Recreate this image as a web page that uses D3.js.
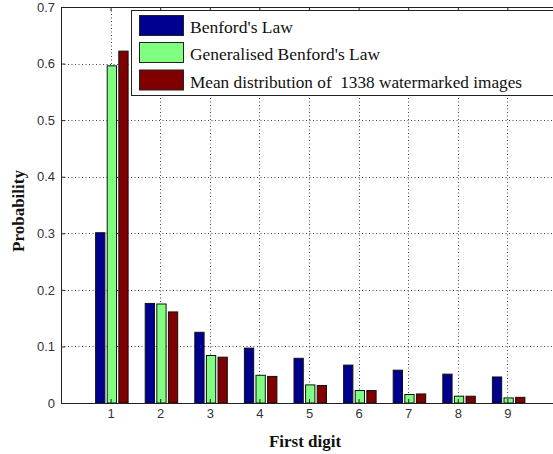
<!DOCTYPE html>
<html>
<head>
<meta charset="utf-8">
<script src="https://cdn.jsdelivr.net/npm/d3@7"></script>
<style>
  html, body { margin: 0; padding: 0; background: #fff; overflow: hidden; }
  svg { display: block; }
  .tick text { font-family: "Liberation Sans", Arial, sans-serif; font-size: 13px; fill: #333; }
</style>
</head>
<body>
<script>
// First-digit probabilities
const digits = [1, 2, 3, 4, 5, 6, 7, 8, 9];
const seriesNames = ["Benford's Law", "Generalised Benford's Law", "Mean distribution of  1338 watermarked images"];
const benford = [0.301, 0.176, 0.125, 0.097, 0.079, 0.067, 0.058, 0.051, 0.046];
const generalised = [0.596, 0.175, 0.084, 0.049, 0.032, 0.022, 0.015, 0.012, 0.009];
const watermarked = [0.622, 0.161, 0.081, 0.047, 0.031, 0.022, 0.016, 0.012, 0.010];
const seriesColors = ["#00008f", "#80ff80", "#800000"];
const yTicks = [0, 0.1, 0.2, 0.3, 0.4, 0.5, 0.6, 0.7];

const W = 553, H = 454;
const m = { left: 61, top: 7, right: 557, bottom: 403 };

const svg = d3.select("body").append("svg").attr("width", W).attr("height", H);

const x = d3.scaleLinear().domain([0, 10]).range([m.left, m.right]);
const y = d3.scaleLinear().domain([0, 0.7]).range([m.bottom, m.top]);
const inner = d3.scaleBand().domain(d3.range(3)).range([-15, 17.5]).paddingInner(0.2);

// plot background
svg.append("rect").attr("x", m.left).attr("y", m.top)
  .attr("width", m.right - m.left).attr("height", m.bottom - m.top).attr("fill", "#fff");

// dotted grid
const grid = svg.append("g").attr("stroke", "#444").attr("stroke-width", 1).attr("stroke-dasharray", "1,2.5");
grid.selectAll("line.v").data(digits).join("line").attr("class", "v")
  .attr("x1", d => Math.round(x(d)) + 0.5).attr("x2", d => Math.round(x(d)) + 0.5)
  .attr("y1", m.top).attr("y2", m.bottom);
grid.selectAll("line.h").data(yTicks.slice(1, -1)).join("line").attr("class", "h")
  .attr("y1", d => Math.round(y(d)) + 0.5).attr("y2", d => Math.round(y(d)) + 0.5)
  .attr("x1", m.left).attr("x2", m.right);

// bars
const data = [benford, generalised, watermarked];
data.forEach((vals, si) => {
  svg.append("g").selectAll("rect").data(vals).join("rect")
    .attr("x", (v, i) => x(digits[i]) + inner(si))
    .attr("width", inner.bandwidth())
    .attr("y", v => y(v))
    .attr("height", v => y(0) - y(v))
    .attr("fill", seriesColors[si])
    .attr("stroke", "#111").attr("stroke-width", 1);
});

// axes
const xAxis = d3.axisBottom(x).tickValues(digits).tickSize(-4).tickPadding(6).tickFormat(d3.format("d"));
const gx = svg.append("g").attr("transform", `translate(0,${m.bottom})`).call(xAxis);
gx.select(".domain").remove();
gx.selectAll(".tick line").attr("stroke", "#222");

const xTop = d3.axisTop(x).tickValues(digits).tickSize(-4).tickFormat("");
const gt = svg.append("g").attr("transform", `translate(0,${m.top})`).call(xTop);
gt.select(".domain").remove();
gt.selectAll(".tick line").attr("stroke", "#222");

const yAxis = d3.axisLeft(y).tickValues(yTicks).tickSize(-4).tickPadding(6).tickFormat(d => d === 0 ? "0" : d3.format(".1f")(d));
const gy = svg.append("g").attr("transform", `translate(${m.left},0)`).call(yAxis);
gy.select(".domain").remove();
gy.selectAll(".tick line").attr("stroke", "#222");

// axes box
svg.append("rect").attr("x", m.left + 0.5).attr("y", m.top + 0.5)
  .attr("width", m.right - m.left).attr("height", m.bottom - m.top)
  .attr("fill", "none").attr("stroke", "#222").attr("stroke-width", 1);

// axis titles
svg.append("text").attr("x", 305).attr("y", 447).attr("text-anchor", "middle")
  .attr("font-family", "'Liberation Serif', 'Times New Roman', serif").attr("font-weight", "bold")
  .attr("font-size", 17).attr("fill", "#111").text("First digit");
svg.append("text").attr("transform", "translate(24,211) rotate(-90)").attr("text-anchor", "middle")
  .attr("font-family", "'Liberation Serif', 'Times New Roman', serif").attr("font-weight", "bold")
  .attr("font-size", 17).attr("fill", "#111").text("Probability");

// legend
const legendTextWidths = [103, 190, 332];
const lg = svg.append("g");
lg.append("rect").attr("x", 131.5).attr("y", 10.5).attr("width", 440).attr("height", 85)
  .attr("fill", "#fff").attr("stroke", "#222").attr("stroke-width", 1);
const rowY = [15, 42, 69.5];
seriesNames.forEach((name, i) => {
  lg.append("rect").attr("x", 139.5).attr("y", rowY[i] + 0.5).attr("width", 44).attr("height", 20)
    .attr("fill", seriesColors[i]).attr("stroke", "#222").attr("stroke-width", 1);
  lg.append("text").attr("x", 190).attr("y", rowY[i] + 18)
    .attr("font-family", "'Liberation Serif', 'Times New Roman', serif")
    .attr("font-size", 16).attr("fill", "#111").style("white-space", "pre")
    .attr("textLength", legendTextWidths[i]).attr("lengthAdjust", "spacingAndGlyphs")
    .text(name);
});
</script>
</body>
</html>
